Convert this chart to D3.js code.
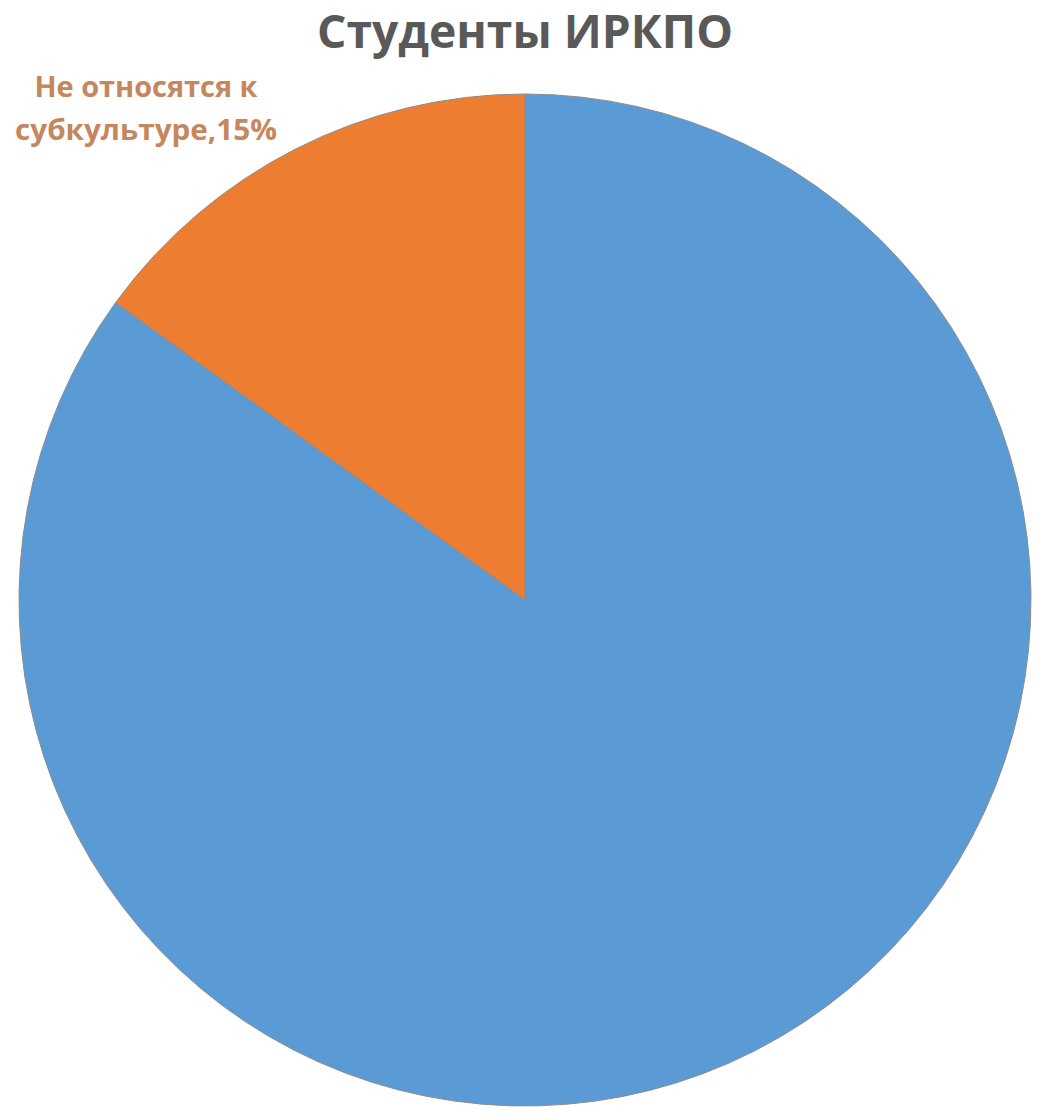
<!DOCTYPE html>
<html>
<head>
<meta charset="utf-8">
<script src="https://cdn.jsdelivr.net/npm/d3@7"></script>
<style>
  body { margin: 0; background: #fff; }
  svg { display: block; }
</style>
</head>
<body>
<svg id="chart"></svg>
<script>
var categories = ['Относятся к субкультуре', 'Не относятся к субкультуре'];
var values = [85, 15];
var colors = ['#5B9BD5', '#ED7D31'];
var labelLines = [null, ['Не относятся к', 'субкультуре,15%']];

var width = 1038, height = 1117;
var cx = 525, cy = 600, radius = 506;

var svg = d3.select('#chart').attr('width', width).attr('height', height);

svg.append('text')
  .attr('x', 525).attr('y', 48)
  .attr('text-anchor', 'middle')
  .attr('font-family', 'Open Sans, sans-serif')
  .attr('font-weight', 'bold')
  .attr('font-size', 46)
  .attr('fill', '#595959')
  .attr('textLength', 416)
  .attr('lengthAdjust', 'spacingAndGlyphs')
  .text('Студенты ИРКПО');

var pie = d3.pie().sort(null).value(function(d) { return d; });
var arc = d3.arc().innerRadius(0).outerRadius(radius);

var g = svg.append('g').attr('transform', 'translate(' + cx + ',' + cy + ')');
g.selectAll('path').data(pie(values)).enter().append('path')
  .attr('d', arc)
  .attr('fill', function(d, i) { return colors[i]; })
  .attr('stroke', '#8c8c8c')
  .attr('stroke-width', 1);

// data label for the orange slice (sits outside, top-left)
var lbl = svg.append('text')
  .attr('text-anchor', 'middle')
  .attr('font-family', 'Open Sans, sans-serif')
  .attr('font-weight', 'bold')
  .attr('font-size', 29)
  .attr('fill', '#C4875E');
lbl.append('tspan').attr('x', 146).attr('y', 97)
  .attr('textLength', 223).attr('lengthAdjust', 'spacingAndGlyphs')
  .text(labelLines[1][0]);
lbl.append('tspan').attr('x', 146).attr('y', 140)
  .attr('textLength', 262).attr('lengthAdjust', 'spacingAndGlyphs')
  .text(labelLines[1][1]);
</script>
</body>
</html>
